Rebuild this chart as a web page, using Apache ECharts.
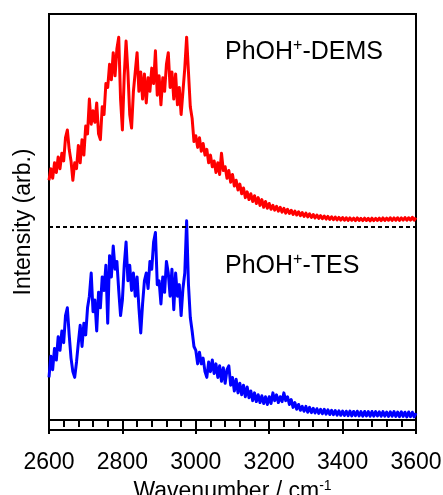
<!DOCTYPE html>
<html>
<head>
<meta charset="utf-8">
<script src="https://cdn.jsdelivr.net/npm/echarts@6/dist/echarts.min.js"></script>
<style>
html,body{margin:0;padding:0;background:#fff;}
#chart{width:443px;height:495px;}
</style>
</head>
<body>
<div id="chart"></div>
<script>
// Wavenumber sampling grid (cm-1), 2600..3600 in steps of 5
const wnStart = 2600, wnStep = 5;
const xTicks = [2600, 2800, 3000, 3200, 3400, 3600];

// PhOH+-DEMS intensity (arb., normalized)
const demsIntensity = [
  0.24,0.30,0.25,0.33,0.28,0.36,0.30,0.38,0.34,0.46,
  0.50,0.40,0.34,0.24,0.33,0.30,0.42,0.33,0.45,0.37,
  0.52,0.48,0.66,0.53,0.60,0.54,0.64,0.48,0.45,0.62,
  0.58,0.74,0.72,0.84,0.76,0.90,0.78,0.92,0.98,0.66,
  0.50,0.78,0.96,0.80,0.58,0.51,0.70,0.80,0.90,0.70,
  0.80,0.66,0.79,0.64,0.77,0.70,0.82,0.74,0.91,0.68,
  0.78,0.63,0.77,0.70,0.84,0.90,0.72,0.80,0.66,0.79,
  0.63,0.72,0.58,0.70,0.82,0.98,0.80,0.62,0.56,0.44,
  0.47,0.41,0.46,0.39,0.43,0.37,0.40,0.33,0.37,0.31,
  0.34,0.28,0.33,0.27,0.38,0.29,0.31,0.25,0.29,0.23,
  0.27,0.21,0.24,0.19,0.22,0.17,0.20,0.15,0.18,0.14,
  0.17,0.13,0.16,0.12,0.15,0.11,0.14,0.10,0.13,0.095,
  0.12,0.09,0.11,0.085,0.105,0.08,0.10,0.075,0.095,0.07,
  0.09,0.068,0.085,0.063,0.08,0.06,0.077,0.057,0.073,0.053,
  0.07,0.05,0.066,0.048,0.063,0.045,0.06,0.043,0.057,0.041,
  0.055,0.039,0.053,0.037,0.051,0.036,0.05,0.035,0.048,0.034,
  0.047,0.033,0.046,0.032,0.045,0.033,0.044,0.031,0.045,0.032,
  0.043,0.031,0.044,0.032,0.043,0.030,0.044,0.031,0.043,0.032,
  0.044,0.031,0.045,0.032,0.044,0.033,0.046,0.032,0.045,0.033,
  0.046,0.032,0.045,0.034,0.047,0.033,0.046,0.034,0.048,0.033,
  0.047
];

// PhOH+-TES intensity (arb., normalized)
const tesIntensity = [
  0.22,0.33,0.26,0.37,0.31,0.43,0.36,0.46,0.40,0.54,
  0.58,0.44,0.32,0.25,0.22,0.30,0.40,0.49,0.38,0.50,
  0.44,0.58,0.64,0.76,0.56,0.62,0.46,0.66,0.58,0.74,
  0.67,0.80,0.50,0.85,0.74,0.90,0.78,0.82,0.67,0.54,
  0.62,0.80,0.92,0.72,0.80,0.67,0.76,0.64,0.74,0.58,
  0.45,0.60,0.72,0.76,0.68,0.82,0.78,0.92,0.97,0.70,
  0.72,0.60,0.74,0.66,0.82,0.76,0.64,0.78,0.57,0.76,
  0.64,0.70,0.54,0.68,0.76,1.03,0.70,0.53,0.46,0.38,
  0.36,0.29,0.35,0.29,0.32,0.25,0.22,0.30,0.25,0.31,
  0.24,0.29,0.22,0.28,0.20,0.27,0.19,0.26,0.28,0.18,
  0.22,0.15,0.21,0.14,0.19,0.13,0.18,0.12,0.17,0.115,
  0.15,0.10,0.14,0.095,0.13,0.09,0.125,0.085,0.12,0.08,
  0.12,0.085,0.14,0.10,0.13,0.09,0.12,0.095,0.14,0.10,
  0.12,0.08,0.105,0.065,0.09,0.055,0.08,0.05,0.07,0.045,
  0.07,0.04,0.065,0.038,0.06,0.036,0.058,0.034,0.055,0.032,
  0.055,0.03,0.052,0.028,0.05,0.027,0.048,0.025,0.047,0.024,
  0.046,0.023,0.045,0.022,0.046,0.021,0.044,0.022,0.045,0.021,
  0.043,0.02,0.044,0.021,0.043,0.019,0.044,0.02,0.043,0.021,
  0.042,0.019,0.043,0.02,0.041,0.018,0.042,0.019,0.043,0.018,
  0.041,0.017,0.042,0.018,0.04,0.016,0.041,0.017,0.04,0.016,
  0.035
];

// vertical offsets of the stacked traces (baselines)
const demsOffset = 1.0;
const tesOffset = 0.0;

const toPairs = (arr, off) => arr.map((v, i) => [wnStart + i * wnStep, off + v]);

const FONT = 'Liberation Sans, Arial, sans-serif';
const chart = echarts.init(document.getElementById('chart'), null, {renderer: 'canvas'});

const option = {
  animation: false,
  backgroundColor: '#fff',
  grid: {left: 49, right: 27, top: 14, bottom: 65, show: true, borderColor: '#000', borderWidth: 2,
         backgroundColor: 'transparent', containLabel: false, outerBoundsMode: 'none'},
  xAxis: {
    type: 'value', min: xTicks[0], max: xTicks[xTicks.length - 1], interval: 200,
    name: '{n|Wavenumber / cm}{s|-1}',
    nameLocation: 'middle', nameGap: 45,
    nameTextStyle: {
      rich: {
        n: {fontFamily: FONT, fontSize: 23, color: '#000'},
        s: {fontFamily: FONT, fontSize: 14, color: '#000', padding: [0, 0, 12, 0]}
      }
    },
    axisLine: {show: true, lineStyle: {color: '#000', width: 2}},
    axisTick: {show: true, inside: false, length: 14, lineStyle: {color: '#000', width: 2}},
    minorTick: {show: true, splitNumber: 5, length: 7, lineStyle: {color: '#000', width: 2}},
    axisLabel: {margin: 21, fontFamily: FONT, fontSize: 23, color: '#000',
                formatter: v => String(v), showMinLabel: true, showMaxLabel: true},
    splitLine: {show: false}
  },
  yAxis: {
    type: 'value', min: -0.052, max: 2.10,
    name: 'Intensity (arb.)', nameLocation: 'middle', nameRotate: 90, nameGap: 14,
    nameTextStyle: {fontFamily: FONT, fontSize: 23, color: '#000'},
    axisLine: {show: false}, axisTick: {show: false}, axisLabel: {show: false}, splitLine: {show: false}
  },
  series: [
    {
      name: 'PhOH+-DEMS', type: 'line', data: toPairs(demsIntensity, demsOffset),
      showSymbol: false, symbol: 'none', lineStyle: {color: '#ff0000', width: 3, join: 'round'}, z: 3,
      markLine: {
        silent: true, symbol: 'none', label: {show: false},
        lineStyle: {color: '#000', type: [4, 3], width: 2},
        data: [{yAxis: demsOffset}]
      }
    },
    {
      name: 'PhOH+-TES', type: 'line', data: toPairs(tesIntensity, tesOffset),
      showSymbol: false, symbol: 'none', lineStyle: {color: '#0000ff', width: 3, join: 'round'}, z: 3,
      markLine: {
        silent: true, symbol: 'none', label: {show: false},
        lineStyle: {color: '#000', type: [4, 3], width: 2},
        data: [{yAxis: tesOffset}]
      }
    }
  ],
  graphic: [
    {
      type: 'text', left: 225, top: 38, z: 10,
      style: {
        text: '{a|PhOH}{s|+}{a|-DEMS}',
        rich: {
          a: {fontFamily: FONT, fontSize: 25, fill: '#000'},
          s: {fontFamily: FONT, fontSize: 16, fill: '#000', padding: [0, 0, 12, 0]}
        }
      }
    },
    {
      type: 'text', left: 225, top: 252, z: 10,
      style: {
        text: '{a|PhOH}{s|+}{a|-TES}',
        rich: {
          a: {fontFamily: FONT, fontSize: 25, fill: '#000'},
          s: {fontFamily: FONT, fontSize: 16, fill: '#000', padding: [0, 0, 12, 0]}
        }
      }
    }
  ]
};
chart.setOption(option);
</script>
</body>
</html>
